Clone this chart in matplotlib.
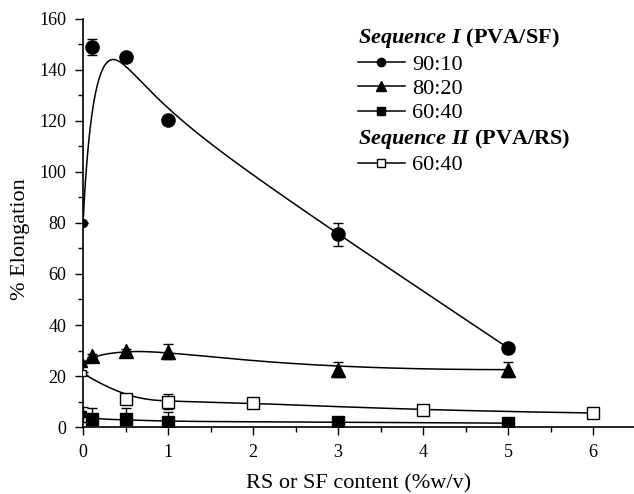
import numpy as np
import matplotlib.pyplot as plt
from matplotlib.lines import Line2D

plt.rcParams['font.family'] = ['Liberation Serif', 'DejaVu Serif']
plt.rcParams['mathtext.fontset'] = 'custom'
plt.rcParams['mathtext.it'] = 'Liberation Serif:italic:bold'
plt.rcParams['mathtext.rm'] = 'Liberation Serif:bold'

# Sequence I (PVA/SF), SF content in %w/v
sf_x = [0, 0.1, 0.5, 1, 3, 5]
e_9010 = [80, 149, 145, 120.5, 75.5, 31]
err_9010 = [0, 3, 0.5, 0.5, 4.5, 0.5]
e_8020 = [25, 28, 30, 29.5, 22.5, 22.5]
err_8020 = [0, 0.5, 0.5, 3, 3, 3]
e_6040 = [5, 3, 3, 2, 2, 1.5]
err_6040 = [3, 4.5, 4.5, 4, 0.3, 0.3]

# Sequence II (PVA/RS)
rs_x = [0, 0.5, 1, 2, 4, 6]
e_rs6040 = [21, 11, 10, 9.5, 6.5, 5.5]
err_rs6040 = [0.5, 1.5, 3, 1.5, 1.5, 1.5]


def bspline(xs, ys, k=3, n=400):
    """Clamped cubic B-spline using the data points as control points."""
    P = np.column_stack([xs, ys]).astype(float)
    m = len(P)
    t = np.concatenate([np.zeros(k), np.linspace(0, 1, m - k + 1), np.ones(k)])
    u = np.linspace(0, 1, n)
    N = np.zeros((n, len(t) - 1))
    for i in range(len(t) - 1):
        N[:, i] = (t[i] <= u) & (u < t[i + 1])
    N[-1, :] = 0
    N[-1, m - 1] = 1
    for d in range(1, k + 1):
        Nn = np.zeros((n, len(t) - 1 - d))
        for i in range(len(t) - 1 - d):
            a = np.zeros(n)
            b = np.zeros(n)
            if t[i + d] > t[i]:
                a = (u - t[i]) / (t[i + d] - t[i]) * N[:, i]
            if t[i + d + 1] > t[i + 1]:
                b = (t[i + d + 1] - u) / (t[i + d + 1] - t[i + 1]) * N[:, i + 1]
            Nn[:, i] = a + b
        N = Nn
    C = N @ P
    return C[:, 0], C[:, 1]


fig = plt.figure(figsize=(6.34, 4.94), dpi=100)
ax = fig.add_axes([0.131, 0.1356, 0.869, 0.826])

series = [
    (sf_x, e_9010, err_9010, 'o', 'k', 9.5),
    (sf_x, e_8020, err_8020, '^', 'k', 10),
    (sf_x, e_6040, err_6040, 's', 'k', 8),
    (rs_x, e_rs6040, err_rs6040, 's', 'white', 8),
]

for xs, ys, err, mk, fc, ms in series:
    cx, cy = bspline(xs, ys)
    ax.plot(cx, cy, color='k', lw=1.1, zorder=2)
    ax.errorbar(xs[1:], ys[1:], yerr=err[1:], fmt=mk, ms=ms, mfc=fc, mec='k',
                mew=1.0, ecolor='k', elinewidth=1.0, capsize=3.5, zorder=3)
    # the first point sits on the y axis and is drawn smaller
    ax.errorbar(xs[:1], ys[:1], yerr=err[:1], fmt=mk, ms=ms * 0.6, mfc=fc,
                mec='k', mew=1.0, ecolor='k', elinewidth=1.0, capsize=3.5,
                zorder=3)

ax.set_xlim(0, 6.48)
ax.set_ylim(0, 160)
ax.set_xticks(range(0, 7))
ax.set_xticks(np.arange(0.5, 6.5, 1), minor=True)
ax.set_yticks(range(0, 161, 20))
ax.set_yticks(range(10, 160, 20), minor=True)
ax.tick_params(which='major', direction='out', length=6, width=1,
               labelsize=13, pad=6)
ax.tick_params(which='minor', direction='out', length=3.5, width=1)
for s in ['top', 'right']:
    ax.spines[s].set_visible(False)
for s in ['left', 'bottom']:
    ax.spines[s].set_linewidth(1.2)

ax.set_xlabel('RS or SF content (%w/v)', fontsize=16, labelpad=10)
ax.set_ylabel('% Elongation', fontsize=16)
ax.yaxis.set_label_coords(-0.097, 0.46)

legend_kw = dict(loc='upper left', frameon=False, fontsize=16,
                 title_fontproperties={'weight': 'bold', 'size': 16},
                 alignment='left', handlelength=2.1, handletextpad=0.35,
                 borderpad=0, borderaxespad=0, labelspacing=0.17)
h1 = [
    Line2D([], [], color='k', lw=1.1, marker='o', ms=6, mfc='k'),
    Line2D([], [], color='k', lw=1.1, marker='^', ms=7.5, mfc='k'),
    Line2D([], [], color='k', lw=1.1, marker='s', ms=6, mfc='k'),
]
leg1 = ax.legend(h1, ['90:10', '80:20', '60:40'], bbox_to_anchor=(0.499, 0.982),
                 title=r'$\mathit{Sequence\ I}$ (PVA/SF)', **legend_kw)
ax.add_artist(leg1)
h2 = [Line2D([], [], color='k', lw=1.1, marker='s', ms=6, mfc='white')]
ax.legend(h2, ['60:40'], bbox_to_anchor=(0.499, 0.735),
          title=r'$\mathit{Sequence\ II}$ (PVA/RS)', **legend_kw)

fig.savefig('out.png', dpi=100)
